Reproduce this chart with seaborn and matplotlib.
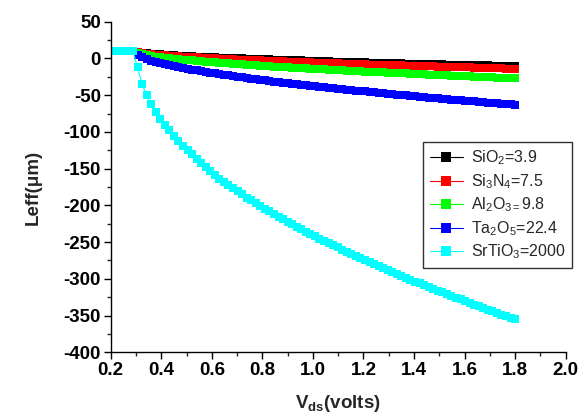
import matplotlib
matplotlib.use('Agg')
import matplotlib.pyplot as plt
import pandas as pd
import seaborn as sns
from matplotlib.lines import Line2D
from matplotlib.ticker import MultipleLocator, FormatStrFormatter

vds = [0.198, 0.216, 0.234, 0.252, 0.27, 0.288, 0.306, 0.324, 0.342, 0.36,
       0.378, 0.396, 0.414, 0.432, 0.45, 0.468, 0.486, 0.504, 0.522, 0.54,
       0.558, 0.576, 0.594, 0.612, 0.63, 0.648, 0.666, 0.684, 0.702, 0.72,
       0.738, 0.756, 0.774, 0.792, 0.81, 0.828, 0.846, 0.864, 0.882, 0.9,
       0.918, 0.936, 0.954, 0.972, 0.99, 1.008, 1.026, 1.044, 1.062, 1.08,
       1.098, 1.116, 1.134, 1.152, 1.17, 1.188, 1.206, 1.224, 1.242, 1.26,
       1.278, 1.296, 1.314, 1.332, 1.35, 1.368, 1.386, 1.404, 1.422, 1.44,
       1.458, 1.476, 1.494, 1.512, 1.53, 1.548, 1.566, 1.584, 1.602, 1.62,
       1.638, 1.656, 1.674, 1.692, 1.71, 1.728, 1.746, 1.764, 1.782, 1.8]

sio2 = [10, 10, 10, 10, 10, 10,
        8.4, 7.6, 6.9, 6.4, 5.9, 5.4, 5.0, 4.6, 4.3, 3.9,
        3.6, 3.2, 2.9, 2.6, 2.3, 2.0, 1.8, 1.5, 1.2, 1.0,
        0.7, 0.4, 0.2, 0.0, -0.3, -0.5, -0.7, -1.0, -1.2, -1.4,
        -1.6, -1.8, -2.0, -2.2, -2.4, -2.6, -2.8, -3.0, -3.2, -3.4,
        -3.6, -3.8, -4.0, -4.2, -4.4, -4.5, -4.7, -4.9, -5.1, -5.2,
        -5.4, -5.6, -5.8, -5.9, -6.1, -6.3, -6.4, -6.6, -6.8, -6.9,
        -7.1, -7.2, -7.4, -7.6, -7.7, -7.9, -8.0, -8.2, -8.3, -8.5,
        -8.6, -8.8, -8.9, -9.1, -9.2, -9.4, -9.5, -9.6, -9.8, -9.9,
        -10.1, -10.2, -10.4, -10.5]

si3n4 = [10, 10, 10, 10, 10, 10,
         8.1, 7.2, 6.4, 5.8, 5.2, 4.7, 4.2, 3.7, 3.3, 2.9,
         2.5, 2.1, 1.7, 1.4, 1.0, 0.7, 0.3, 0.0, -0.3, -0.6,
         -0.9, -1.2, -1.5, -1.8, -2.0, -2.3, -2.6, -2.8, -3.1, -3.3,
         -3.6, -3.8, -4.1, -4.3, -4.6, -4.8, -5.0, -5.3, -5.5, -5.7,
         -5.9, -6.2, -6.4, -6.6, -6.8, -7.0, -7.2, -7.4, -7.6, -7.9,
         -8.1, -8.3, -8.5, -8.7, -8.9, -9.0, -9.2, -9.4, -9.6, -9.8,
         -10.0, -10.2, -10.4, -10.6, -10.7, -10.9, -11.1, -11.3, -11.5, -11.6,
         -11.8, -12.0, -12.2, -12.3, -12.5, -12.7, -12.8, -13.0, -13.2, -13.3,
         -13.5, -13.7, -13.8, -14.0]

al2o3 = [10, 10, 10, 10, 10, 10,
         7.0, 5.6, 4.5, 3.5, 2.6, 1.8, 1.0, 0.3, -0.4, -1.0,
         -1.6, -2.2, -2.8, -3.3, -3.9, -4.4, -4.9, -5.4, -5.9, -6.3,
         -6.8, -7.2, -7.7, -8.1, -8.5, -9.0, -9.4, -9.8, -10.2, -10.6,
         -11.0, -11.3, -11.7, -12.1, -12.5, -12.8, -13.2, -13.5, -13.9, -14.2,
         -14.6, -14.9, -15.3, -15.6, -15.9, -16.2, -16.6, -16.9, -17.2, -17.5,
         -17.8, -18.1, -18.5, -18.8, -19.1, -19.4, -19.7, -20.0, -20.2, -20.5,
         -20.8, -21.1, -21.4, -21.7, -22.0, -22.2, -22.5, -22.8, -23.1, -23.3,
         -23.6, -23.9, -24.2, -24.4, -24.7, -24.9, -25.2, -25.5, -25.7, -26.0,
         -26.2, -26.5, -26.7, -27.0]

ta2o5 = [10, 10, 10, 10, 10, 10,
         4.2, 1.3, -0.9, -2.9, -4.6, -6.2, -7.7, -9.1, -10.5, -11.7,
         -12.9, -14.1, -15.2, -16.3, -17.4, -18.4, -19.4, -20.4, -21.3, -22.3,
         -23.2, -24.1, -24.9, -25.8, -26.6, -27.5, -28.3, -29.1, -29.9, -30.7,
         -31.4, -32.2, -32.9, -33.7, -34.4, -35.1, -35.8, -36.5, -37.2, -37.9,
         -38.6, -39.3, -39.9, -40.6, -41.2, -41.9, -42.5, -43.1, -43.8, -44.4,
         -45.0, -45.6, -46.2, -46.8, -47.4, -48.0, -48.6, -49.2, -49.8, -50.4,
         -50.9, -51.5, -52.1, -52.6, -53.2, -53.7, -54.3, -54.8, -55.4, -55.9,
         -56.4, -57.0, -57.5, -58.0, -58.5, -59.1, -59.6, -60.1, -60.6, -61.1,
         -61.6, -62.1, -62.6, -63.1]

srtio3 = [10, 10, 10, 10, 10, 10,
          -12, -35, -50, -62, -73, -82, -90, -98, -105.6, -112,
          -119, -125, -130.7, -136.6, -142.3, -147.9, -153.3, -158.6, -163.7, -168.2,
          -172.6, -176.9, -181.1, -185.2, -189.3, -193.2, -197.1, -200.9, -204.6, -208.3,
          -211.9, -215.4, -218.9, -222.4, -225.8, -229.1, -232.4, -235.7, -238.9, -242.0,
          -245.2, -248.3, -251.3, -254.3, -257.3, -260.3, -263.2, -266.1, -269.0, -271.8,
          -274.6, -277.4, -280.1, -282.8, -285.5, -288.2, -290.9, -293.5, -296.1, -298.7,
          -301.2, -303.8, -306.3, -308.8, -311.3, -313.7, -316.2, -318.6, -321.0, -323.4,
          -325.8, -328.1, -330.5, -332.8, -335.1, -337.4, -339.7, -341.9, -344.2, -346.4,
          -348.7, -350.9, -353.0, -355.2]

names = ['SiO2', 'Si3N4', 'Al2O3', 'Ta2O5', 'SrTiO3']
labels = ['SiO$_\\mathregular{2}$=3.9',
          'Si$_\\mathregular{3}$N$_\\mathregular{4}$=7.5',
          'Al$_\\mathregular{2}$O$_\\mathregular{3=}$9.8',
          'Ta$_\\mathregular{2}$O$_\\mathregular{5}$=22.4',
          'SrTiO$_\\mathregular{3}$=2000']
colors = ['#000000', '#FF0000', '#00FF00', '#0000FF', '#00FFFF']
series = [sio2, si3n4, al2o3, ta2o5, srtio3]

frames = []
for nm, ys in zip(names, series):
    frames.append(pd.DataFrame({'Vds': vds, 'Leff': ys, 'material': nm}))
df = pd.concat(frames, ignore_index=True)

sns.set_style('ticks')
plt.rcParams['font.family'] = ['Liberation Sans', 'DejaVu Sans']
plt.rcParams['mathtext.fontset'] = 'custom'
plt.rcParams['mathtext.rm'] = 'Liberation Sans'
plt.rcParams['mathtext.it'] = 'Liberation Sans:italic'
plt.rcParams['mathtext.bf'] = 'Liberation Sans:bold'
plt.rcParams['axes.unicode_minus'] = False

fig = plt.figure(figsize=(5.87, 4.19), dpi=100)
ax = fig.add_axes([0.1886, 0.1592, 0.7751, 0.789])

sns.lineplot(data=df, x='Vds', y='Leff', hue='material', hue_order=names,
             palette=colors, marker='s', markersize=5.8, markeredgewidth=0,
             linewidth=0.8, estimator=None, sort=False, legend=False, ax=ax)

ax.set_xlim(0.2, 2.0)
ax.set_ylim(-400, 50)
ax.xaxis.set_major_locator(MultipleLocator(0.2))
ax.xaxis.set_minor_locator(MultipleLocator(0.1))
ax.yaxis.set_major_locator(MultipleLocator(50))
ax.yaxis.set_minor_locator(MultipleLocator(25))
ax.xaxis.set_major_formatter(FormatStrFormatter('%.1f'))
for s in ['top', 'right']:
    ax.spines[s].set_visible(False)
for s in ['left', 'bottom']:
    ax.spines[s].set_linewidth(1.0)
    ax.spines[s].set_color('black')
ax.tick_params(which='major', direction='out', length=5, width=1, labelsize=13.5,
               colors='black', pad=2)
ax.tick_params(which='minor', direction='out', length=3, width=1)
for lab in ax.get_xticklabels() + ax.get_yticklabels():
    lab.set_fontweight('bold')

ax.set_xlabel('V$_{\\mathbf{ds}}$(volts)', fontsize=13.5, fontweight='bold', labelpad=10)
ax.set_ylabel('Leff(\u03bcm)', fontsize=13.5, fontweight='bold', labelpad=16)

handles = [Line2D([0], [0], color=c, lw=0.8, marker='s', markersize=6.5, markeredgewidth=0)
           for c in colors]
leg = ax.legend(handles, labels, loc='upper left', bbox_to_anchor=(0.687, 0.635),
                prop={'size': 11.5, 'weight': 'normal'}, frameon=True, fancybox=False,
                handlelength=2.1, handletextpad=0.5, labelspacing=0.3, borderpad=0.4,
                borderaxespad=0)
leg.get_frame().set_edgecolor('black')
leg.get_frame().set_linewidth(1.0)

fig.savefig('out.png', dpi=100)
